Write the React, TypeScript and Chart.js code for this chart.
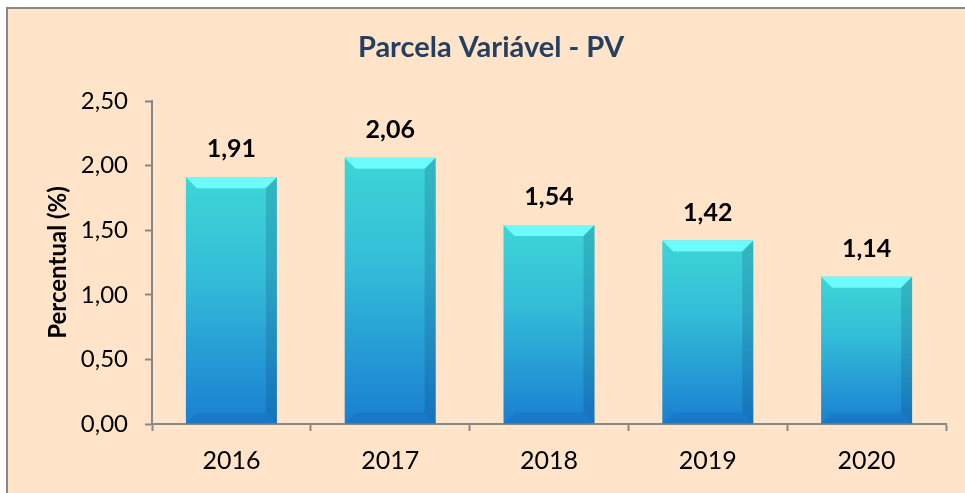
import React, { useEffect, useRef } from "react";
import { Chart, registerables } from "chart.js";

Chart.register(...registerables);

const categories = ["2016", "2017", "2018", "2019", "2020"];
const values = [1.91, 2.06, 1.54, 1.42, 1.14];
const yTicks = [0, 0.5, 1, 1.5, 2, 2.5];
const titleText = "Parcela Variável - PV";
const yTitle = "Percentual (%)";

const FONT = "Lato, 'Open Sans', sans-serif";
const fmt = (v: number) => v.toFixed(2).replace(".", ",");

const bgPlugin = {
  id: "bgPlugin",
  beforeDraw(chart: any) {
    const { ctx, width, height } = chart;
    ctx.save();
    ctx.fillStyle = "#ffffff";
    ctx.fillRect(0, 0, width, height);
    ctx.fillStyle = "#FFE4C9";
    ctx.fillRect(7, 8, width - 7, height - 8);
    ctx.strokeStyle = "#888888";
    ctx.lineWidth = 2;
    ctx.beginPath();
    ctx.moveTo(7, height);
    ctx.lineTo(7, 8);
    ctx.lineTo(width, 8);
    ctx.stroke();
    // chart title
    ctx.fillStyle = "#243F60";
    ctx.font = `bold 29px ${FONT}`;
    ctx.textAlign = "center";
    ctx.textBaseline = "middle";
    ctx.fillText(titleText, 491, 48);
    ctx.restore();
  },
};

const bevelPlugin = {
  id: "bevelPlugin",
  afterDatasetsDraw(chart: any) {
    const { ctx } = chart;
    const meta = chart.getDatasetMeta(0);
    ctx.save();
    meta.data.forEach((bar: any, i: number) => {
      const w = bar.width;
      const L = bar.x - w / 2;
      const R = bar.x + w / 2;
      const T = bar.y;
      const B = bar.base;
      const b = 11;
      // top bevel
      ctx.fillStyle = "#6CFCFD";
      ctx.beginPath();
      ctx.moveTo(L, T);
      ctx.lineTo(R, T);
      ctx.lineTo(R - b, T + b);
      ctx.lineTo(L + b, T + b);
      ctx.closePath();
      ctx.fill();
      // right bevel
      ctx.fillStyle = "rgba(0,40,90,0.17)";
      ctx.beginPath();
      ctx.moveTo(R, T);
      ctx.lineTo(R, B);
      ctx.lineTo(R - b, B - b);
      ctx.lineTo(R - b, T + b);
      ctx.closePath();
      ctx.fill();
      // bottom bevel
      ctx.fillStyle = "rgba(0,30,90,0.08)";
      ctx.beginPath();
      ctx.moveTo(L, B);
      ctx.lineTo(R, B);
      ctx.lineTo(R - b, B - b);
      ctx.lineTo(L + b, B - b);
      ctx.closePath();
      ctx.fill();
      // value label
      ctx.fillStyle = "#000000";
      ctx.font = `bold 25px ${FONT}`;
      ctx.textAlign = "center";
      ctx.textBaseline = "middle";
      ctx.fillText(fmt(values[i]), bar.x, T - 28);
    });
    ctx.restore();
  },
};

export default function App() {
  const ref = useRef<HTMLCanvasElement>(null);
  useEffect(() => {
    const chart = new Chart(ref.current as HTMLCanvasElement, {
      type: "bar",
      data: {
        labels: categories,
        datasets: [
          {
            data: values,
            borderWidth: 0,
            categoryPercentage: 1,
            barPercentage: 0.573,
            backgroundColor: (c: any) => {
              const ch = c.chart;
              if (!ch.chartArea || c.dataIndex === undefined) return "#2AAAD4";
              const y = ch.scales.y;
              const top = y.getPixelForValue(values[c.dataIndex]);
              const bot = y.getPixelForValue(0);
              const g = ch.ctx.createLinearGradient(0, top, 0, bot);
              g.addColorStop(0, "#3DD6D6");
              g.addColorStop(0.4, "#33BDD8");
              g.addColorStop(1, "#1A7FD2");
              return g;
            },
          } as any,
        ],
      },
      options: {
        responsive: false,
        animation: false,
        layout: { padding: { left: 0, right: 19, top: 101, bottom: 0 } },
        plugins: {
          legend: { display: false },
          tooltip: { enabled: false },
          title: { display: false },
        },
        scales: {
          x: {
            grid: {
              display: true,
              drawOnChartArea: false,
              drawTicks: true,
              tickLength: 7,
              tickColor: "#888888",
              tickWidth: 2,
            },
            border: { display: true, color: "#888888", width: 2 },
            ticks: {
              color: "#000000",
              font: { family: FONT, size: 25 },
              padding: 15,
            },
            afterFit: (s: any) => {
              s.height = 493 - 424;
            },
          },
          y: {
            min: 0,
            max: 2.5,
            afterBuildTicks: (s: any) => {
              s.ticks = yTicks.map((v) => ({ value: v }));
            },
            grid: {
              display: true,
              drawOnChartArea: false,
              drawTicks: true,
              tickLength: 7,
              tickColor: "#888888",
              tickWidth: 2,
            },
            border: { display: true, color: "#888888", width: 2 },
            ticks: {
              color: "#000000",
              font: { family: FONT, size: 24 },
              padding: 17,
              callback: (v: any) => fmt(Number(v)),
            },
            title: {
              display: true,
              text: yTitle,
              color: "#000000",
              font: { family: FONT, size: 24, weight: "bold", lineHeight: 1.2 },
              padding: { top: 44, bottom: 0 },
            },
            afterFit: (s: any) => {
              s.width = 152;
            },
          },
        },
      },
      plugins: [bgPlugin, bevelPlugin],
    } as any);
    return () => chart.destroy();
  }, []);
  return (
    <div style={{ position: "absolute", left: 0, top: 0, width: 965, height: 493 }}>
      <canvas ref={ref} width={965} height={493} style={{ width: 965, height: 493, display: "block" }} />
    </div>
  );
}
